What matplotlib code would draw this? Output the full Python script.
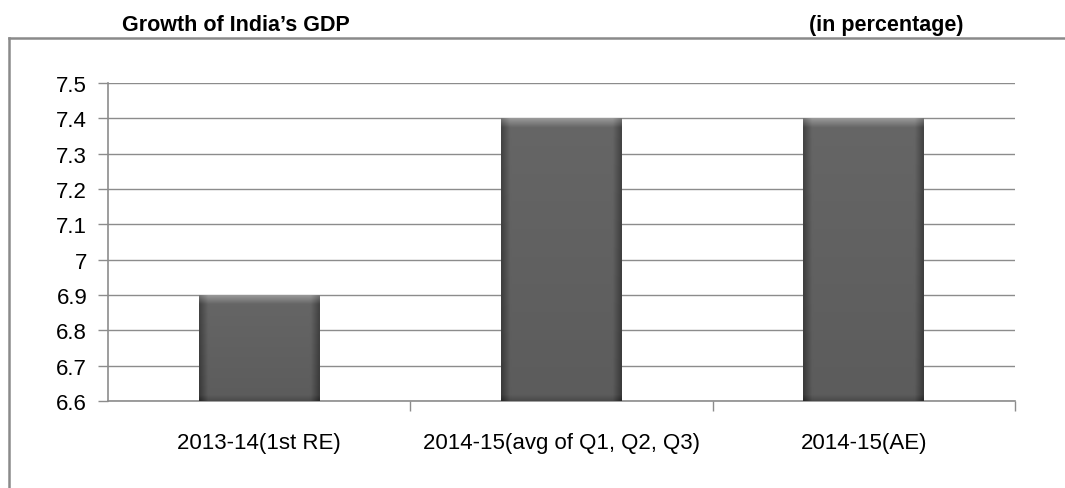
import numpy as np
import matplotlib
matplotlib.use("Agg")
import matplotlib.pyplot as plt
from matplotlib.lines import Line2D

categories = ["2013-14(1st RE)", "2014-15(avg of Q1, Q2, Q3)", "2014-15(AE)"]
growth = [6.9, 7.4, 7.4]
yticks = [6.6, 6.7, 6.8, 6.9, 7.0, 7.1, 7.2, 7.3, 7.4, 7.5]
ytick_labels = ["6.6", "6.7", "6.8", "6.9", "7", "7.1", "7.2", "7.3", "7.4", "7.5"]

plt.rcParams['font.family'] = ['Liberation Sans', 'DejaVu Sans']

fig = plt.figure(figsize=(10.65, 4.89), dpi=100)
ax = fig.add_axes([0.1014, 0.178, 0.8516, 0.650])

grid_c = "#8c8c8c"
x = np.arange(len(categories))
bars = ax.bar(x, growth, width=0.40, color="#5c5c5c", edgecolor="none", zorder=3)

# bevelled gradient fill on each bar
nx_, ny_ = 60, 300
xs = np.linspace(0, 1, nx_)
edge = np.minimum(xs, 1 - xs)
horiz = np.clip(edge / 0.07, 0, 1)
bot = 6.6
for b in bars:
    x0, w = b.get_x(), b.get_width()
    h = b.get_height()
    ys = np.linspace(0, 1, ny_)  # 0 = top
    hpx = (h - bot) * 353
    top_band = np.clip(ys * hpx / 9, 0, 1)
    bot_band = np.clip((1 - ys) * hpx / 6, 0, 1)
    img = np.full((ny_, nx_), 0.40)
    img -= 0.13 * (1 - horiz)[None, :]
    img += 0.20 * (1 - top_band)[:, None]
    img -= 0.07 * (1 - bot_band)[:, None]
    img -= 0.04 * ys[:, None]
    img = np.clip(img, 0, 1)
    rgb = np.dstack([img, img, img])
    im = ax.imshow(rgb, extent=[x0, x0 + w, bot, h], aspect="auto",
                   interpolation="bilinear", zorder=4)
    im.set_clip_path(b)

ax.set_xlim(-0.5, 2.5)
ax.set_ylim(6.6, 7.5)
ax.set_yticks(yticks)
ax.set_yticklabels(ytick_labels)
ax.set_xticks(x)
ax.set_xticklabels(categories)
ax.set_xticks([0.5, 1.5, 2.5], minor=True)
ax.tick_params(axis="x", which="major", length=0, pad=22, labelsize=16)
ax.tick_params(axis="x", which="minor", length=7, color=grid_c, width=1)
ax.tick_params(axis="y", length=7, color=grid_c, width=1, labelsize=16, pad=8)

ax.grid(axis="y", color=grid_c, lw=1, zorder=0)
ax.set_axisbelow(True)
for s in ["top", "right"]:
    ax.spines[s].set_visible(False)
for s in ["left", "bottom"]:
    ax.spines[s].set_color(grid_c)
    ax.spines[s].set_linewidth(1.2)

# outer frame (top and left edges)
fig.add_artist(Line2D([0.0085, 1.0], [0.921, 0.921], transform=fig.transFigure,
                      color="#8a8a8a", lw=1.8))
fig.add_artist(Line2D([0.0085, 0.0085], [0.0, 0.921], transform=fig.transFigure,
                      color="#8a8a8a", lw=1.8))

fig.text(0.115, 0.937, "Growth of India\u2019s GDP", fontsize=15.5, fontweight="bold",
         ha="left", va="baseline")
fig.text(0.905, 0.937, "(in percentage)", fontsize=15.5, fontweight="bold",
         ha="right", va="baseline")

fig.savefig("out.png", dpi=100)
